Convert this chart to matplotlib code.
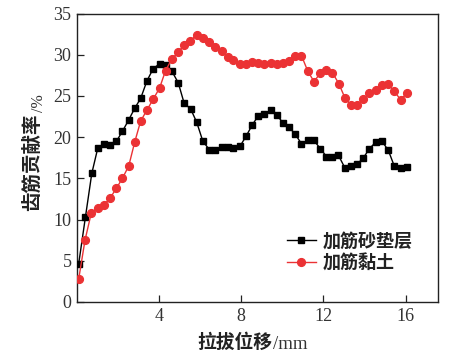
import matplotlib
matplotlib.use("Agg")
import matplotlib.pyplot as plt

plt.rcParams["font.family"] = ["Liberation Serif", "DejaVu Serif"]

# Data
x_sand = [0.08, 0.41, 0.72, 1.01, 1.32, 1.61, 1.92, 2.21, 2.52, 2.81, 3.10, 3.41, 3.71, 4.02,
          4.31, 4.62, 4.93, 5.22, 5.53, 5.83, 6.13, 6.44, 6.72, 7.04, 7.33, 7.62, 7.94, 8.23,
          8.54, 8.83, 9.12, 9.43, 9.72, 10.03, 10.33, 10.63, 10.93, 11.24, 11.54, 11.85, 12.15,
          12.44, 12.73, 13.04, 13.35, 13.64, 13.95, 14.24, 14.55, 14.84, 15.16, 15.45, 15.76, 16.05]
y_sand = [4.6, 10.3, 15.6, 18.65, 19.2, 19.0, 19.5, 20.7, 22.1, 23.5, 24.7, 26.85, 28.3, 28.9,
          28.8, 28.0, 26.6, 24.1, 23.45, 21.8, 19.5, 18.5, 18.4, 18.8, 18.8, 18.7, 18.9, 20.1,
          21.5, 22.6, 22.85, 23.25, 22.7, 21.75, 21.2, 20.35, 19.2, 19.6, 19.6, 18.6, 17.65,
          17.65, 17.8, 16.3, 16.5, 16.7, 17.5, 18.6, 19.4, 19.55, 18.4, 16.5, 16.2, 16.4]

x_clay = [0.08, 0.39, 0.70, 1.01, 1.32, 1.61, 1.92, 2.21, 2.52, 2.81, 3.10, 3.41, 3.71, 4.02,
          4.31, 4.62, 4.93, 5.22, 5.51, 5.83, 6.13, 6.44, 6.73, 7.04, 7.33, 7.62, 7.94, 8.23,
          8.52, 8.83, 9.12, 9.43, 9.72, 10.03, 10.33, 10.63, 10.93, 11.24, 11.54, 11.85, 12.15,
          12.44, 12.75, 13.04, 13.35, 13.64, 13.95, 14.24, 14.55, 14.84, 15.16, 15.45, 15.76, 16.05]
y_clay = [2.75, 7.5, 10.85, 11.4, 11.8, 12.6, 13.8, 15.0, 16.5, 19.4, 21.95, 23.3, 24.6, 25.95,
          28.05, 29.5, 30.3, 31.2, 31.7, 32.4, 32.0, 31.6, 30.9, 30.4, 29.7, 29.3, 28.9, 28.9,
          29.15, 28.95, 28.9, 29.05, 28.9, 29.05, 29.2, 29.9, 29.9, 28.0, 26.75, 27.75, 28.2,
          27.8, 26.5, 24.8, 23.85, 23.95, 24.6, 25.35, 25.7, 26.3, 26.4, 25.55, 24.55, 25.3]

series_labels = ["加筋砂垫层", "加筋黏土"]
x_ticks = [4, 8, 12, 16]
y_ticks = [0, 5, 10, 15, 20, 25, 30, 35]

W, H = 466, 356
fig = plt.figure(figsize=(W / 100, H / 100), dpi=100)
ax = fig.add_axes([77 / W, 1 - 302 / H, (438 - 77) / W, (302 - 13.5) / H])

red = "#EB3234"
ax.plot(x_sand, y_sand, color="black", lw=1.0, marker="s", ms=4.6, label=series_labels[0], zorder=3)
ax.plot(x_clay, y_clay, color=red, lw=1.0, marker="o", ms=5.6, label=series_labels[1], zorder=4)

ax.set_xlim(0, 17.58)
ax.set_ylim(0, 35)
ax.set_xticks(x_ticks)
ax.set_yticks(y_ticks)
ax.tick_params(direction="in", length=4.8, width=0.9, color="#222222", labelsize=13,
               labelcolor="#333333", top=False, right=False)
ax.tick_params(axis="x", pad=4.5)
ax.tick_params(axis="y", pad=4)
for sp in ax.spines.values():
    sp.set_linewidth(1.0)
    sp.set_color("#222222")

cjk = "Noto Sans CJK SC"
leg = ax.legend(loc="center left", bbox_to_anchor=((287 - 77) / (438 - 77), (302 - 252) / (302 - 13.5)),
                frameon=False, borderpad=0, borderaxespad=0, handlelength=1.6, handletextpad=0.4,
                labelspacing=0.15, prop={"family": cjk, "weight": "bold", "size": 13})
for t in leg.get_texts():
    t.set_color("#222222")

# x label: CJK part + serif unit
fig.text(235 / W, 1 - 342 / H, "拉拔位移", family=cjk, weight="bold", size=13.5,
         ha="center", va="center", color="#222222")
fig.text(273 / W, 1 - 349 / H, "/mm", family="Liberation Serif", size=13.5,
         ha="left", va="baseline", color="#333333")

# y label
fig.text(32.5 / W, 1 - 162.5 / H, "齿筋贡献率", family=cjk, weight="bold", size=14,
         rotation=90, ha="center", va="center", color="#222222")
fig.text(39 / W, 1 - 103 / H, "/%", family="Liberation Serif", size=11.5,
         rotation=90, ha="center", va="center", color="#333333")

fig.savefig("out.png", dpi=100)
